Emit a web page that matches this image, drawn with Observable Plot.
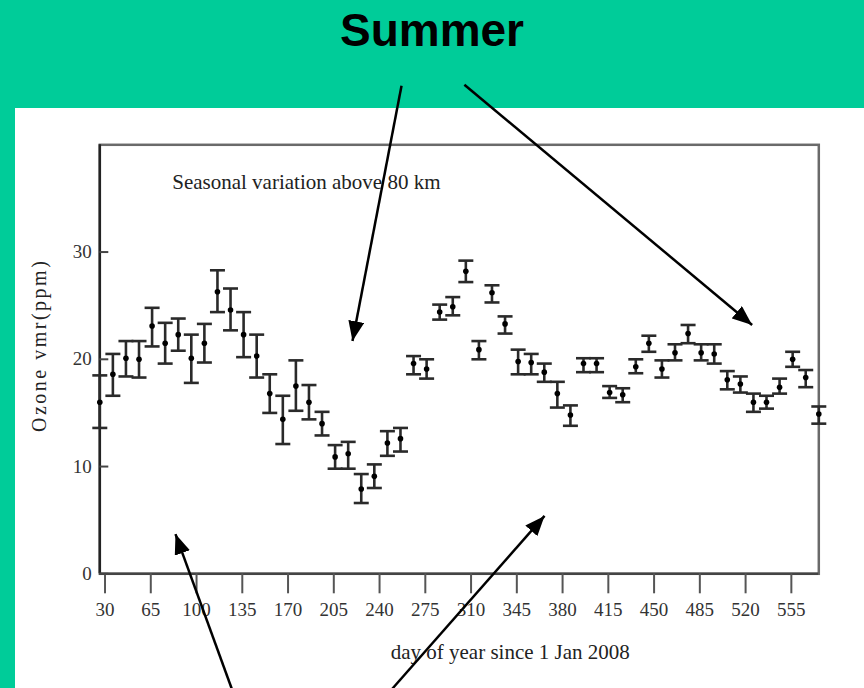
<!DOCTYPE html>
<html><head><meta charset="utf-8">
<script src="https://cdn.jsdelivr.net/npm/d3@7"></script>
<script src="https://cdn.jsdelivr.net/npm/@observablehq/plot@0.6"></script>
<style>
html,body{margin:0;padding:0;width:864px;height:688px;overflow:hidden;background:#00CC99;}
#title{position:absolute;left:0;top:7px;width:864px;text-align:center;font:bold 46px "Liberation Sans",Arial,sans-serif;line-height:1;color:#000;}
#panel{position:absolute;left:15px;top:108px;right:0;bottom:0;background:#fff;}
#chart{position:absolute;left:0;top:0;}
</style></head><body>
<div id="panel"></div>
<div id="title">Summer</div>
<div id="chart"></div>
<script>
const days = [26,36,46,56,66,76,86,96,106,116,126,136,146,156,166,176,186,196,206,216,226,236,246,256,266,276,286,296,306,316,326,336,346,356,366,376,386,396,406,416,426,436,446,456,466,476,486,496,506,516,526,536,546,556,566,576];
const ozone = [16.0,18.6,20.1,20.0,23.1,21.5,22.3,20.1,21.5,26.3,24.6,22.3,20.3,16.8,14.4,17.5,16.0,14.0,10.9,11.2,7.9,9.1,12.2,12.6,19.6,19.1,24.4,24.9,28.2,20.9,26.2,23.3,19.8,19.7,18.8,16.8,14.8,19.6,19.6,16.9,16.7,19.3,21.5,19.1,20.6,22.4,20.6,20.5,18.1,17.7,16.0,16.0,17.4,20.0,18.3,14.9];
const errLow = [13.6,16.6,18.4,18.3,21.2,19.6,20.8,17.8,19.7,24.4,22.7,20.2,18.3,15.0,12.1,15.2,14.4,12.9,9.8,9.8,6.6,8.0,11.0,11.4,18.6,18.2,23.7,24.1,27.2,20.0,25.3,22.4,18.6,18.6,17.9,15.5,13.8,18.8,18.8,16.4,16.0,18.7,20.7,18.3,19.9,21.5,19.9,19.6,17.2,16.9,15.1,15.4,16.8,19.3,17.4,14.0];
const errHigh = [18.5,20.5,21.7,21.7,24.8,23.4,23.8,22.3,23.3,28.3,26.6,24.4,22.3,18.6,16.6,19.9,17.6,15.1,12.0,12.3,9.3,10.2,13.3,13.6,20.3,20.0,25.1,25.8,29.2,21.7,26.9,24.0,20.9,20.5,19.6,17.9,15.7,20.1,20.1,17.5,17.3,20.0,22.2,19.9,21.4,23.2,21.4,21.4,18.9,18.4,16.8,16.6,18.2,20.7,19.0,15.6];
const xTicks = [30,65,100,135,170,205,240,275,310,345,380,415,450,485,520,555];
const yTicks = [0,10,20,30];
const xDomain = [26, 576];
const yDomain = [0, 40];
// annotation arrows (data coordinates)
const arrowX1 = [256.8, 304.9, 127.5, 248.4];
const arrowY1 = [45.5, 45.6, -10.9, -10.9];
const arrowX2 = [219.3, 525.0, 83.9, 366.2];
const arrowY2 = [21.7, 23.2, 3.7, 5.4];

const data = days.map((d, i) => ({day: d, v: ozone[i], lo: errLow[i], hi: errHigh[i]}));
const arrows = arrowX1.map((x, i) => ({x1: x, y1: arrowY1[i], x2: arrowX2[i], y2: arrowY2[i]}));

const capSymbol = {draw(ctx) { ctx.moveTo(-7.5, 0); ctx.lineTo(7.5, 0); }};
const ink = "#2a2a2a";

const plot = Plot.plot({
  width: 864, height: 688,
  marginLeft: 99.3, marginRight: 45.7, marginTop: 144.3, marginBottom: 114.7,
  style: {fontFamily: "'Liberation Serif', 'DejaVu Serif', serif", fontSize: "19px", color: "#333", background: "transparent", overflow: "visible"},
  x: {domain: xDomain},
  y: {domain: yDomain},
  marks: [
    Plot.frame({stroke: "#6a6a6a", strokeWidth: 2.5}),
    Plot.ruleX([xDomain[0]], {stroke: "#222", strokeWidth: 2.5}),
    Plot.ruleY([yDomain[0]], {stroke: "#444", strokeWidth: 2.5}),
    Plot.axisX({ticks: xTicks, tickSize: 20, tickPadding: 9, tickFormat: d => String(d), label: null, strokeWidth: 2, stroke: "#555"}),
    Plot.axisY({ticks: yTicks, tickSize: -9, tickPadding: 17, tickFormat: d => String(d), label: null, strokeWidth: 2, stroke: "#444"}),
    Plot.ruleX(data, {x: "day", y1: "lo", y2: "hi", stroke: ink, strokeWidth: 2.6}),
    Plot.dot(data, {x: "day", y: "lo", symbol: capSymbol, stroke: ink, strokeWidth: 2.6}),
    Plot.dot(data, {x: "day", y: "hi", symbol: capSymbol, stroke: ink, strokeWidth: 2.6}),
    Plot.dot(data, {x: "day", y: "v", r: 2.8, fill: "#000", stroke: null}),
    Plot.text(["Seasonal variation above 80 km"], {x: 81.4, y: 36.5, text: d => d, textAnchor: "start", fontSize: 21, fill: "#222"}),
    Plot.text(["day of year since 1 Jan 2008"], {x: 340, frameAnchor: "bottom", dy: 85, text: d => d, fontSize: 21, fill: "#222"}),
    Plot.text(["Ozone vmr(ppm)"], {y: 21.3, frameAnchor: "left", dx: -60, rotate: -90, textAnchor: "middle", text: d => d, fontSize: 20, fill: "#222"}),
    Plot.link(arrows, {x1: "x1", y1: "y1", x2: "x2", y2: "y2", stroke: "#000", strokeWidth: 2.5, markerEnd: "arrow"})
  ]
});

const svg = d3.select(plot);
svg.selectAll("marker")
  .attr("viewBox", "0 0 10 10").attr("refX", 10).attr("refY", 5)
  .attr("markerUnits", "userSpaceOnUse").attr("markerWidth", 20).attr("markerHeight", 16)
  .attr("orient", "auto").attr("preserveAspectRatio", "none")
  .each(function() {
    const m = d3.select(this);
    m.selectAll("*").remove();
    m.append("path").attr("d", "M0,0L10,5L0,10z").attr("fill", "#000").attr("stroke", "none");
  });
svg.selectAll("text").filter(function(){ return this.textContent === "Ozone vmr(ppm)"; }).attr("letter-spacing", "2.5px");
document.getElementById("chart").appendChild(plot);
</script>
</body></html>
